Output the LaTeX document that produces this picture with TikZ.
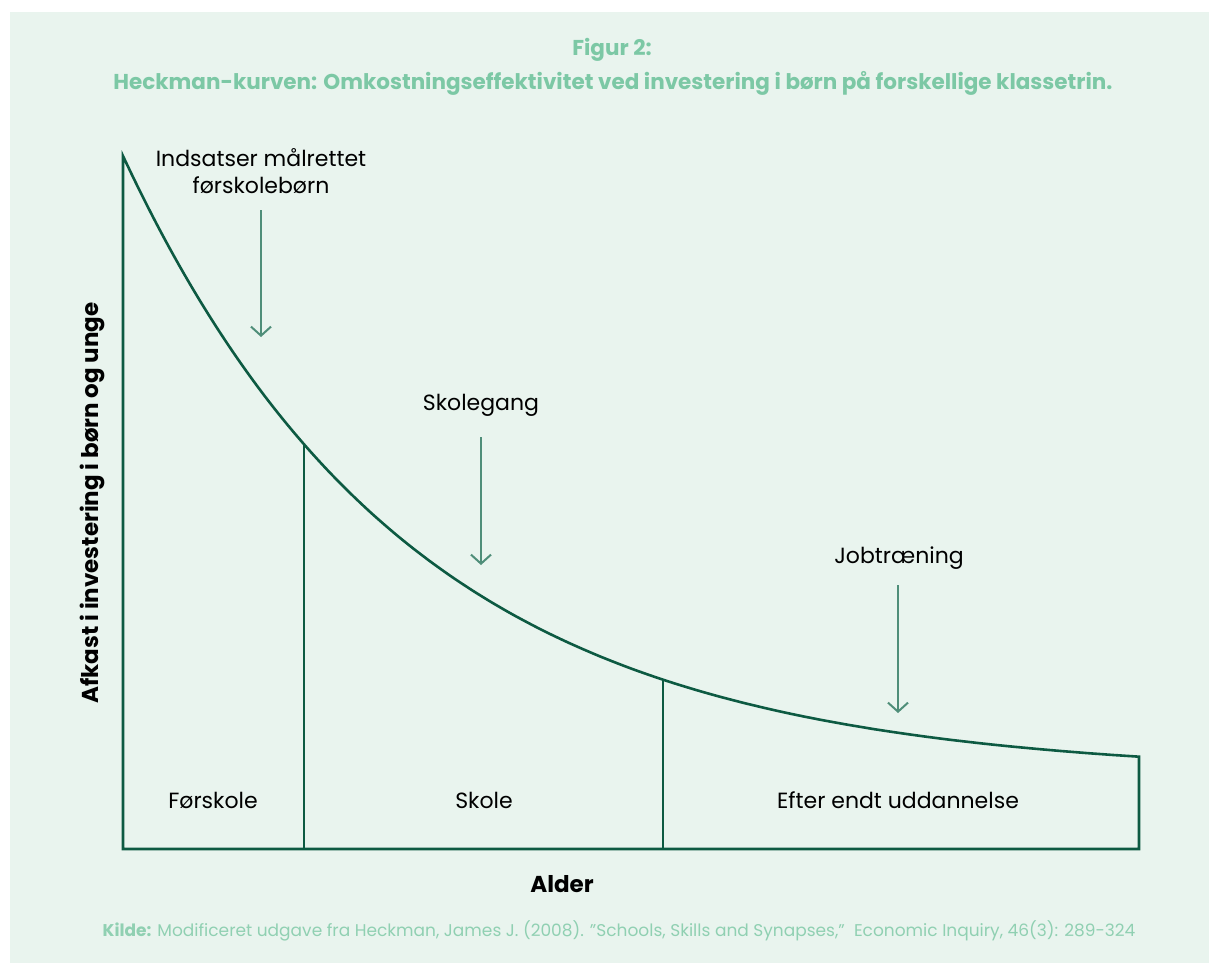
\documentclass[tikz,border=0pt]{standalone}
\usepackage{fontspec}
\setmainfont{Poppins}
\usetikzlibrary{arrows.meta}
\definecolor{panel}{HTML}{E9F4EE}
\definecolor{dkgreen}{HTML}{0D5A42}
\definecolor{argreen}{HTML}{4F8E79}
\definecolor{ttgreen}{HTML}{7CC8A5}
\tikzset{
  curveline/.style={draw=dkgreen, line width=2.6pt, line join=miter},
  pointer/.style={draw=argreen, line width=2pt, -{Straight Barb[length=9pt,width=20pt,line width=2pt]}},
  lbl/.style={font=\fontsize{22}{27}\selectfont, text=black, align=center, inner sep=0pt},
  heavy/.style={font=\fontsize{23}{27}\selectfont\bfseries, text=black, inner sep=0pt},
  ttl/.style={font=\fontsize{21.5}{26}\selectfont\bfseries, text=ttgreen, inner sep=0pt},
}
\begin{document}
\begin{tikzpicture}[x=1pt,y=-1pt]
\useasboundingbox (0,0) rectangle (1209,963);
\fill[panel] (10,12) rectangle (1209,963);
% title
\node[ttl] (fig) at (612,50) {Figur 2:};
\node[ttl] (title) at (613,83) {Heckman-kurven: Omkostningseffektivitet ved investering i børn på forskellige klassetrin.};
% outline and curve
\coordinate (o) at (123,849);
\coordinate (top) at (123,156);
\coordinate (re) at (1139,849);
\coordinate (d1t) at (304,444);
\coordinate (d1b) at (304,849);
\coordinate (d2t) at (663,679.5);
\coordinate (d2b) at (663,849);
\draw[curveline] (o) -- (top) -- plot[domain=123:1139, samples=120, smooth] (\x, {775-619*exp(-0.003459*(\x-123))}) -- (re) -- cycle;
\draw[curveline] (d1t) -- (d1b);
\draw[curveline] (d2t) -- (d2b);
% labels and arrows
\node[lbl] (l1) at (261,171) {Indsatser målrettet\\[0pt]førskolebørn};
\coordinate (a1s) at (261,210);
\coordinate (a1e) at (261,337);
\draw[pointer] (a1s) -- (a1e);
\node[lbl] (l2) at (481,405) {Skolegang};
\coordinate (a2s) at (481,437);
\coordinate (a2e) at (481,565);
\draw[pointer] (a2s) -- (a2e);
\node[lbl] (l3) at (899,558) {Jobtræning};
\coordinate (a3s) at (898,585);
\coordinate (a3e) at (898,713);
\draw[pointer] (a3s) -- (a3e);
% section labels
\node[lbl] (s1) at (213,800) {Førskole};
\node[lbl] (s2) at (484,800) {Skole};
\node[lbl] (s3) at (898,800) {Efter endt uddannelse};
% axis labels
\node[heavy] (xl) at (562,884) {Alder};
\node[heavy, rotate=90] (yl) at (92,503) {Afkast i investering i børn og unge};
% source
\node[font=\fontsize{17}{20}\selectfont, text=ttgreen!85, inner sep=0pt] (src) at (619,931) {\textbf{Kilde:} Modificeret udgave fra Heckman, James J. (2008). "Schools, Skills and Synapses,"\ \ Economic Inquiry, 46(3): 289-324};
\end{tikzpicture}
\end{document}
